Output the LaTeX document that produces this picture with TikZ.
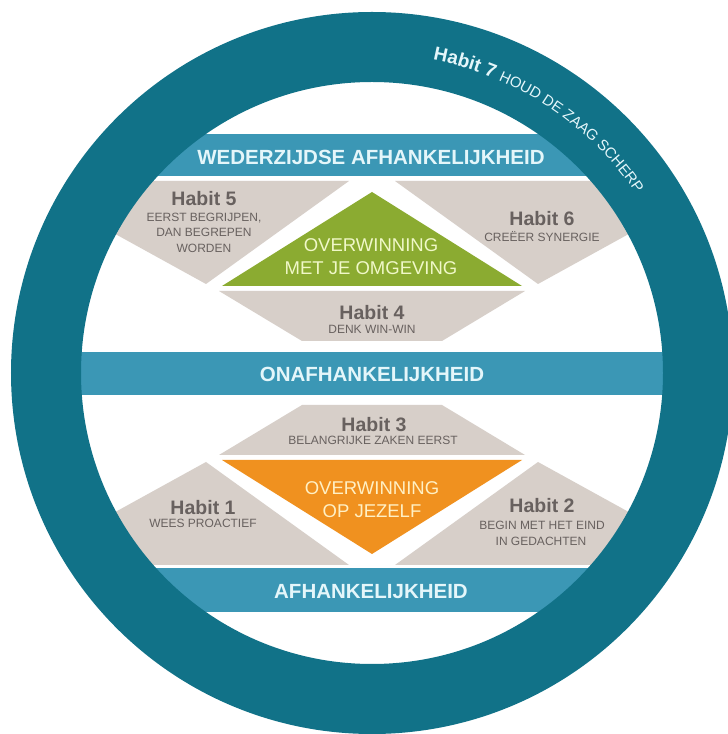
\documentclass[tikz,border=0pt]{standalone}
\usepackage{fontspec}
\setmainfont{Liberation Sans}
\usetikzlibrary{decorations.text}

\definecolor{ringteal}{RGB}{17,114,136}
\definecolor{bandblue}{RGB}{59,151,181}
\definecolor{bandtxt}{RGB}{228,246,250}
\definecolor{habitgray}{RGB}{215,207,201}
\definecolor{habittxt}{RGB}{104,97,95}
\definecolor{wingreen}{RGB}{139,171,49}
\definecolor{wingreentxt}{RGB}{240,248,200}
\definecolor{winorange}{RGB}{240,145,31}
\definecolor{winorangetxt}{RGB}{255,240,196}

\tikzstyle{band}=[fill=bandblue]
\tikzstyle{bandlabel}=[anchor=base, inner sep=0pt, text=bandtxt, font=\fontsize{20.5}{24}\selectfont\bfseries]
\tikzstyle{habitbox}=[fill=habitgray]
\tikzstyle{habitlabel}=[anchor=base, inner sep=0pt, text=habittxt, font=\fontsize{19.5}{22}\selectfont\bfseries]
\tikzstyle{habitsub}=[anchor=base, inner sep=0pt, text=habittxt, font=\fontsize{12}{14}\selectfont]
\tikzstyle{winlabel}=[anchor=base, inner sep=0pt, font=\fontsize{18.5}{22}\selectfont]

\begin{document}
\begin{tikzpicture}[x=1pt, y=1pt]

    \useasboundingbox (0,0) rectangle (728,734);
    \fill[white] (0,0) rectangle (728,734);
    \coordinate (c) at (372,361);

    \begin{scope}
        \clip (c) circle (292);
        % the three bands
        \foreach \ylow/\yhigh in {558/600, 339/382, 122/166}
            \fill[band] (0,\ylow) rectangle (728,\yhigh);

        % upper half: habits 5, 6, 4
        \fill[habitbox] (30,553) -- (349,553) -- (206,450) -- (30,547) -- cycle;
        \fill[habitbox] (395,553) -- (714,553) -- (714,547) -- (538,450) -- cycle;
        \fill[habitbox] (219,443) -- (525,443) -- (442,393) -- (302,393) -- cycle;
        \fill[wingreen] (372,542) -- (522,448) -- (222,448) -- cycle;

        % lower half: habits 3, 1, 2
        \fill[habitbox] (302,329) -- (442,329) -- (525,279) -- (219,279) -- cycle;
        \fill[habitbox] (30,169) -- (349,169) -- (206,272) -- (30,175) -- cycle;
        \fill[habitbox] (395,169) -- (714,169) -- (714,175) -- (538,272) -- cycle;
        \fill[winorange] (222,274) -- (522,274) -- (372,180) -- cycle;
    \end{scope}

    \draw[ringteal, line width=70pt] (c) circle (326);

    \node[bandlabel] (wederzijds) at (371,569) {WEDERZIJDSE AFHANKELIJKHEID};
    \node[bandlabel] (onafh) at (372,352) {ONAFHANKELIJKHEID};
    \node[bandlabel] (afh) at (371,135) {AFHANKELIJKHEID};

    \node[winlabel, text=wingreentxt] (omgeving1) at (371,482) {OVERWINNING};
    \node[winlabel, text=wingreentxt] (omgeving2) at (371,459) {MET JE OMGEVING};
    \node[winlabel, text=winorangetxt] (jezelf1) at (372,239) {OVERWINNING};
    \node[winlabel, text=winorangetxt] (jezelf2) at (372,216) {OP JEZELF};

    \foreach \x/\y/\name/\num in {204/528/h5/5, 542/508/h6/6, 372/414/h4/4, 374/302/h3/3, 203/219/h1/1, 542/221/h2/2}
        \node[habitlabel] (\name) at (\x,\y) {Habit \num};

    \foreach \x/\y/\name/\txt in {204/512/h5a/{EERST BEGRIJPEN,}, 204/497/h5b/DAN BEGREPEN, 204/481/h5c/WORDEN,
                                  542/492/h6a/CREËER SYNERGIE, 372/400/h4a/DENK WIN-WIN,
                                  373/289/h3a/BELANGRIJKE ZAKEN EERST, 203/206/h1a/WEES PROACTIEF,
                                  542/204/h2a/BEGIN MET HET EIND, 541/188/h2b/IN GEDACHTEN}
        \node[habitsub] (\name) at (\x,\y) {\txt};

    % habit 7 along the ring
    \path[decorate, decoration={text along path, text align=left,
        text={|\bfseries\fontsize{19}{19}\selectfont\color{bandtxt}|Habit 7 |\mdseries\fontsize{15}{15}\selectfont\color{bandtxt}|HOUD DE ZAAG SCHERP}}]
        ([shift={(79:319)}]c) arc (79:15:319);

\end{tikzpicture}
\end{document}
